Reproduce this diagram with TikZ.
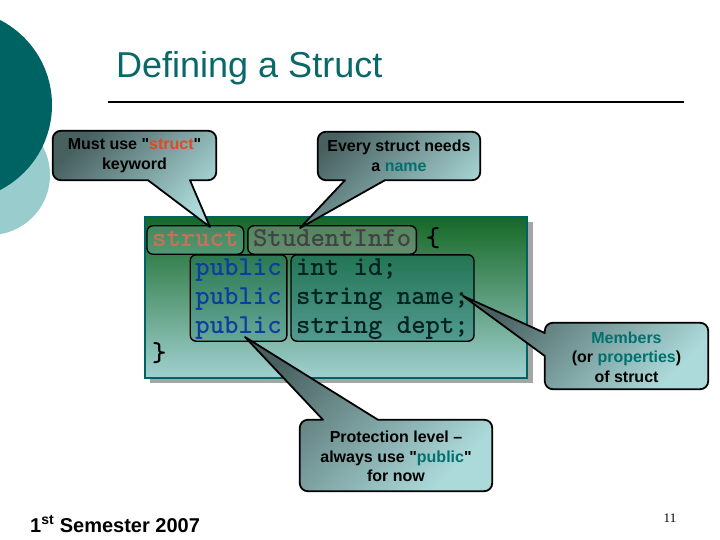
\documentclass[tikz,border=0pt]{standalone}
\usepackage{fontspec}
\setmainfont{Liberation Sans}
\newfontfamily\numfont{Liberation Serif}
\usetikzlibrary{fit,calc}
\definecolor{darkteal}{RGB}{0,99,99}
\definecolor{paleteal}{RGB}{153,204,204}
\definecolor{titleteal}{RGB}{10,104,104}
\definecolor{codetop}{RGB}{22,104,38}
\definecolor{codebot}{RGB}{160,208,208}
\definecolor{calldark}{RGB}{72,96,96}
\definecolor{calllight}{RGB}{172,218,218}
\definecolor{kwred}{RGB}{226,72,36}
\definecolor{hiteal}{RGB}{0,112,112}
\definecolor{pubblue}{RGB}{16,52,176}
\definecolor{shadowgray}{RGB}{165,165,165}

\tikzset{
  codetxt/.style={font=\ttfamily\bfseries\fontsize{27.4}{29}\selectfont, inner sep=0pt, text height=17pt, text depth=5pt, anchor=base west},
  hlbox/.style={draw=black, line width=1.4pt, rounded corners=6pt, inner xsep=5pt, inner ysep=3pt},
  callbox/.style={inner sep=0pt},
  callfill/.style={top color=calldark, bottom color=calllight, shading angle=45, draw=black, line width=1.8pt, line join=round, rounded corners=8pt},
  calltext/.style={font=\bfseries\fontsize{16}{19.5}\selectfont, align=center, inner sep=0pt}
}

\begin{document}
\begin{tikzpicture}[x=1pt,y=-1pt]
\useasboundingbox (0,0) rectangle (720,540);

% side circles
\fill[paleteal] (-10,175) circle (60);
\fill[darkteal] (-43.5,105) circle (95.5);

% title
\node[anchor=base west, text=titleteal, font=\fontsize{36}{40}\selectfont, inner sep=0pt] (title) at (116,78) {Defining a Struct};
\draw[line width=1.5pt] (108,102) -- (684,102);

% code box
\fill[shadowgray] (150,222) rectangle (533,383);
\shade[top color=codetop, bottom color=codebot, draw=darkteal, line width=2.5pt] (145,217) rectangle (527,378);

\node[codetxt, text=kwred] (kw) at (152,246) {struct};
\node[codetxt, text=black] (sname) at (252.8,246) {StudentInfo};
\node[codetxt, text=black] (lbrace) at (425.6,246) {\{};
\foreach \i/\m in {1/int id;,2/string name;,3/string dept;}{
  \node[codetxt, text=pubblue] (pub\i) at (195.2,246+29*\i) {public};
  \node[codetxt, text=black] (mem\i) at (296,246+29*\i) {\m};
}
\node[codetxt, text=black] (rbrace) at (152,361) {\}};

% highlight boxes
\node[hlbox, fill=paleteal, fill opacity=0.3, fit=(kw)] (kwbox) {};
\node[hlbox, fill=gray!70, fill opacity=0.4, fit=(sname)] (snbox) {};
\node[hlbox, fill=darkteal, fill opacity=0.2, fit=(pub1)(pub3)] (pubbox) {};
\node[hlbox, fill=darkteal, fill opacity=0.35, fit=(mem1)(mem3)] (membox) {};

% callouts
\coordinate (tipkw) at (210,227);
\coordinate (tipsn) at (300,228);
\coordinate (tipmem) at (463,296);
\coordinate (tippub) at (245,337);

\node[callbox, minimum width=163pt, minimum height=49pt] (must) at (134.5,155.5) {};
\shade[callfill] (must.north west) -- (must.north east) -- (must.south east)
  [sharp corners] -- ($(must.south)+(55.5,0)$) -- (tipkw) -- ($(must.south)+(13.5,0)$)
  [rounded corners=8pt] -- (must.south west) -- cycle;
\node[calltext] (mustlbl) at (must) {Must use \textquotedbl\textcolor{kwred}{struct}\textquotedbl\\keyword};

\node[callbox, minimum width=162pt, minimum height=48pt] (every) at (399,156) {};
\shade[callfill] (every.north west) -- (every.north east) -- (every.south east)
  [sharp corners] -- ($(every.south)+(-14,0)$) -- (tipsn) -- ($(every.south)+(-54,0)$)
  [rounded corners=8pt] -- (every.south west) -- cycle;
\node[calltext] (everylbl) at (every) {Every struct needs\\a \textcolor{hiteal}{name}};

\node[callbox, minimum width=163pt, minimum height=66pt] (members) at (626.5,356) {};
\shade[callfill] (members.north west) -- (members.north east) -- (members.south east) -- (members.south west)
  [sharp corners] -- (members.west) -- (tipmem) -- ($(members.west)+(0,-23)$)
  [rounded corners=8pt] -- cycle;
\node[calltext] (memberslbl) at ($(members)+(0,1)$) {\textcolor{hiteal}{Members}\\(or \textcolor{hiteal}{properties})\\of struct};

\node[callbox, minimum width=192pt, minimum height=71pt] (prot) at (396,455.5) {};
\shade[callfill] (prot.north west)
  [sharp corners] -- ($(prot.north)+(-73,0)$) -- (tippub) -- ($(prot.north)+(-18,0)$)
  [rounded corners=8pt] -- (prot.north east) -- (prot.south east) -- (prot.south west) -- cycle;
\node[calltext] (protlbl) at ($(prot)+(0,1)$) {Protection level --\\always use \textquotedbl\textcolor{hiteal}{public}\textquotedbl\\for now};

% footer
\node[anchor=base west, font=\bfseries\fontsize{20}{24}\selectfont, inner sep=0pt] (semester) at (30,532) {1\textsuperscript{st} Semester 2007};
\node[anchor=base, font=\numfont\fontsize{13}{15}\selectfont, inner sep=0pt] (pageno) at (670,522) {11};
\end{tikzpicture}
\end{document}
